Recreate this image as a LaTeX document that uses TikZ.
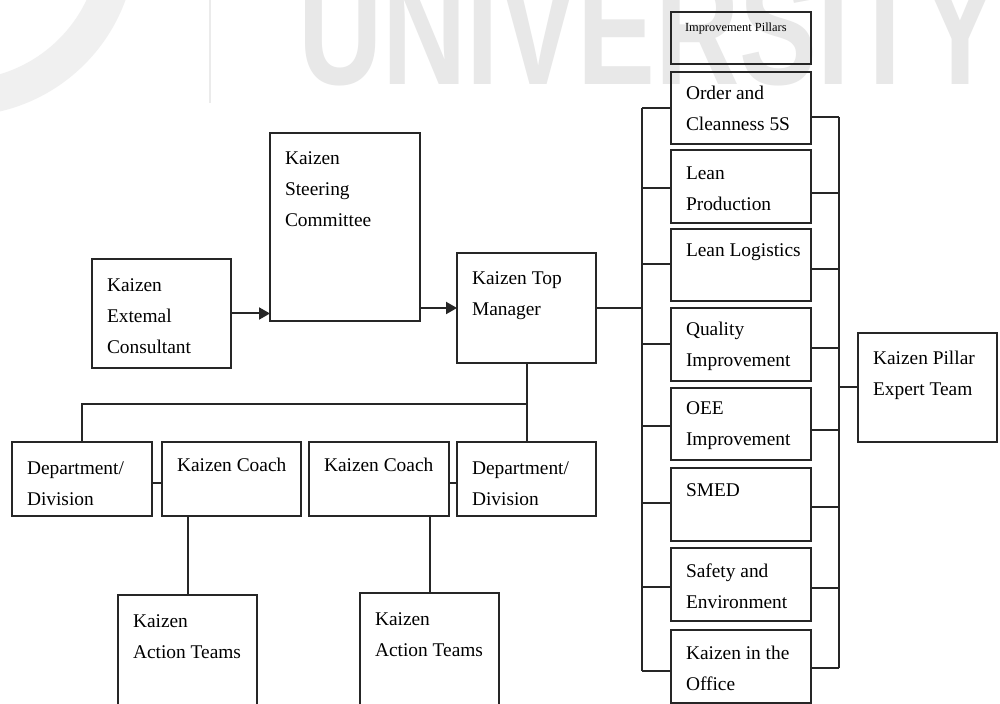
\documentclass[tikz,border=0pt]{standalone}
\usepackage{fontspec}
\setmainfont{Liberation Serif}
\newfontfamily\wmfont{Liberation Sans}
\usetikzlibrary{arrows.meta}
\newdimen\px \px=0.5pt
% #1 width, #2 height, #3 first baseline below top, #4 text
\newcommand\bt[4]{\parbox[t][#2\px][t]{#1\px}{\raggedright\leftskip=15\px\rule{0pt}{#3\px}#4\par}}
\tikzset{
  box/.style={draw=black!85, line width=1pt, inner sep=0pt, outer sep=0pt, anchor=north west},
  conn/.style={draw=black!85, line width=1pt},
  arr/.style={conn, -{Triangle[length=5.5pt,width=6pt]}},
  every node/.style={font=\fontsize{9.7}{15.5}\selectfont}
}
\begin{document}
\begin{tikzpicture}[x=0.5pt,y=-0.5pt]
\useasboundingbox (0,0) rectangle (1000,704);
\clip (0,0) rectangle (1000,704);
\fill[white] (0,0) rectangle (1000,704);
% watermark
\fill[black!6, even odd rule] (-40,-60) circle[radius=176] (-40,-60) circle[radius=140];
\draw[black!8, line width=1pt] (210,0) -- (210,103);
\node[anchor=base west, inner sep=0pt, text=black!9, font=\wmfont\bfseries\fontsize{80}{80}\selectfont, xscale=0.73] (wm) at (298,85) {UNIVERSITY};
% left part
\node[box] (kec) at (92,259) {\bt{139}{109}{33}{Kaizen\\Extemal\\Consultant}};
\node[box] (steer) at (270,133) {\bt{150}{188}{32}{Kaizen\\Steering\\Committee}};
\node[box] (ktm) at (457,253) {\bt{139}{110}{32}{Kaizen Top\\Manager}};
\node[box] (d1) at (12,442) {\bt{140}{74}{33}{Department/\\Division}};
\node[box] (c1) at (162,442) {\bt{139}{74}{30}{Kaizen Coach}};
\node[box] (c2) at (309,442) {\bt{140}{74}{30}{Kaizen Coach}};
\node[box] (d2) at (457,442) {\bt{139}{74}{33}{Department/\\Division}};
\node[box] (a1) at (118,595) {\bt{139}{140}{32}{Kaizen\\Action Teams}};
\node[box] (a2) at (360,593) {\bt{139}{140}{32}{Kaizen\\Action Teams}};
% pillars
\node[box] (ip) at (671,12) {\parbox[t][52\px][t]{140\px}{\fontsize{6.2}{7}\selectfont\raggedright\leftskip=14\px\rule{0pt}{20\px}Improvement Pillars\par}};
\node[box] (p1) at (671,72) {\bt{140}{72}{28}{Order and\\Cleanness 5S}};
\node[box] (p2) at (671,150) {\bt{140}{73}{30}{Lean\\Production}};
\node[box] (p3) at (671,229) {\bt{140}{72}{28}{Lean Logistics}};
\node[box] (p4) at (671,308) {\bt{140}{73}{28}{Quality\\Improvement}};
\node[box] (p5) at (671,388) {\bt{140}{72}{27}{OEE\\Improvement}};
\node[box] (p6) at (671,468) {\bt{140}{73}{29}{SMED}};
\node[box] (p7) at (671,548) {\bt{140}{73}{30}{Safety and\\Environment}};
\node[box] (p8) at (671,630) {\bt{140}{73}{29}{Kaizen in the\\Office}};
\node[box] (expert) at (858,333) {\bt{139}{109}{32}{Kaizen Pillar\\Expert Team}};
% buses
\coordinate (lt) at (642,108);
\coordinate (lb) at (642,671);
\coordinate (rt) at (839,117);
\coordinate (rb) at (839,668);
% connectors
\draw[arr] (kec.east) -- (kec.east -| steer.west);
\draw[arr] (ktm.west -| steer.east) -- (ktm.west);
\draw[conn] (ktm.east) -- (ktm.east -| lt);
\draw[conn] (lt) -- (lb);
\draw[conn] (rt) -- (rb);
\foreach \p/\yy in {p1/108, p2/188, p3/264, p4/344, p5/426, p6/503, p7/587, p8/671}
  \draw[conn] (\p.west |- 0,\yy) -- (lt |- 0,\yy);
\foreach \p/\yy in {p1/117, p2/193, p3/269, p4/348, p5/430, p6/507, p7/588, p8/668}
  \draw[conn] (\p.east |- 0,\yy) -- (rt |- 0,\yy);
\draw[conn] (expert.west) -- (expert.west -| rt);
\draw[conn] (ktm.south) -- (d2.north);
\draw[conn] (ktm.south |- 0,404) -| (d1.north);
\draw[conn] (d1.east |- 0,483) -- (c1.west |- 0,483);
\draw[conn] (c2.east |- 0,483) -- (d2.west |- 0,483);
\draw[conn] (a1.north) -- (a1.north |- c1.south);
\draw[conn] (a2.north) -- (a2.north |- c2.south);
\end{tikzpicture}
\end{document}
